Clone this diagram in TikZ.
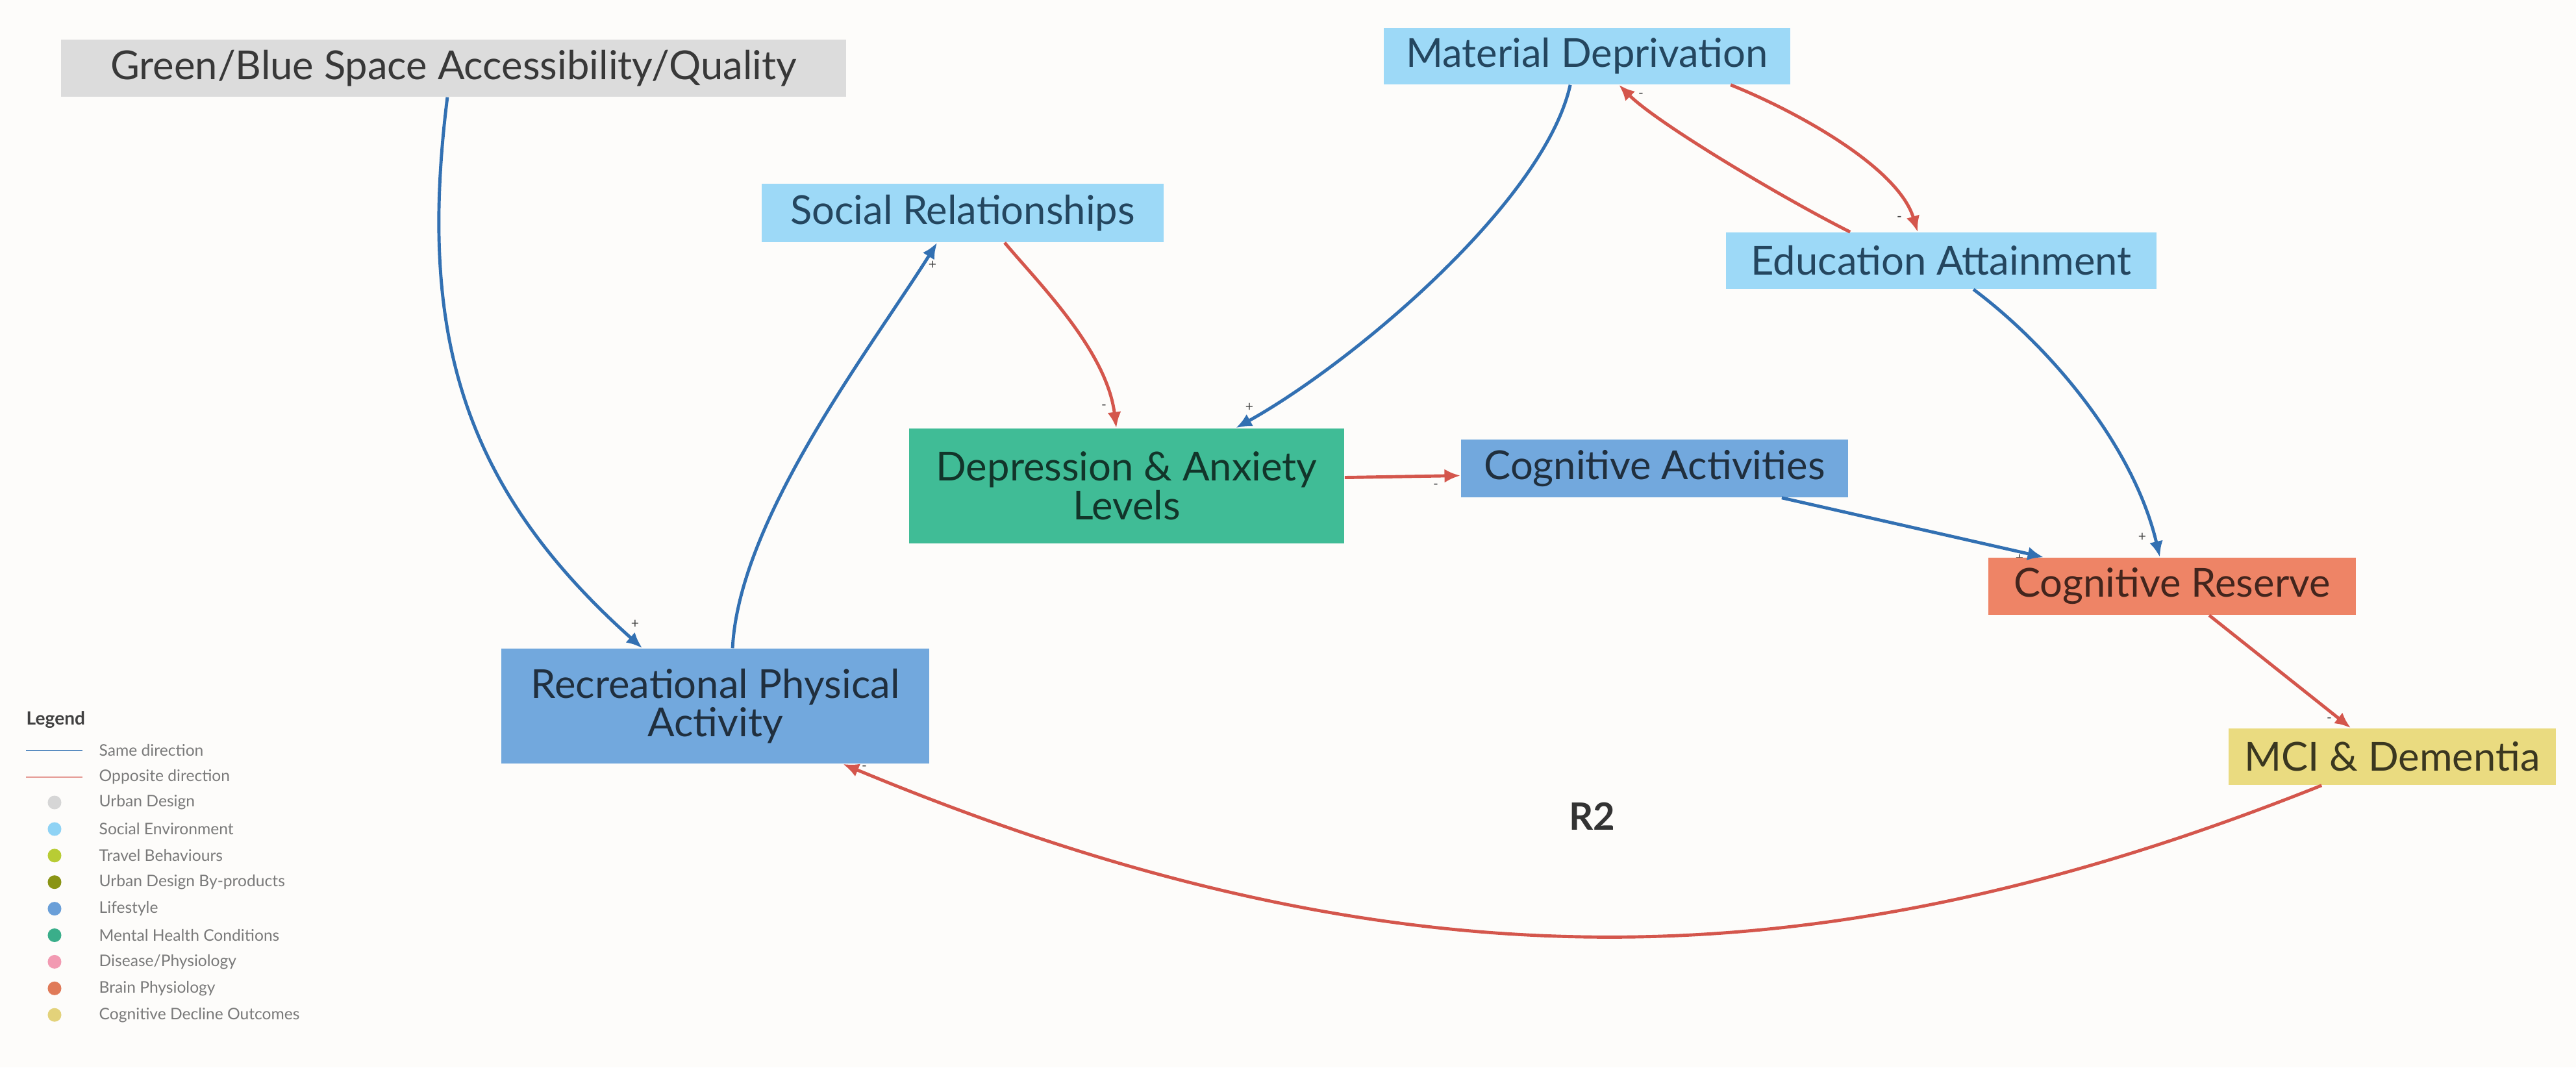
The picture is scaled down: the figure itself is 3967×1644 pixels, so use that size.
\documentclass[tikz,border=0pt]{standalone}
\usepackage{fontspec}
\setmainfont{Lato}
\usepackage{xcolor}
\usetikzlibrary{arrows.meta,calc}

\definecolor{bgcol}{HTML}{FDFCFA}
\definecolor{urban}{HTML}{DCDCDC}
\definecolor{social}{HTML}{9DD9F7}
\definecolor{mental}{HTML}{40BC96}
\definecolor{lifestyle}{HTML}{72A8DD}
\definecolor{brain}{HTML}{EE8466}
\definecolor{decline}{HTML}{EADB80}
\definecolor{sameblue}{HTML}{3270B2}
\definecolor{oppred}{HTML}{D4564C}
\definecolor{signgrey}{HTML}{444444}
\definecolor{legtxt}{HTML}{7A7A7A}
\definecolor{socialtxt}{HTML}{24465F}
% legend dots
\definecolor{legUD}{HTML}{D6D6D6}
\definecolor{legSE}{HTML}{8FD3F5}
\definecolor{legTB}{HTML}{B8CC34}
\definecolor{legBP}{HTML}{8A9414}
\definecolor{legLS}{HTML}{6A9FD8}
\definecolor{legMH}{HTML}{3AAE8A}
\definecolor{legDS}{HTML}{F29AB2}
\definecolor{legBR}{HTML}{E07A58}
\definecolor{legCD}{HTML}{E3D27A}

\tikzset{
  varbox/.style={rectangle, inner sep=0pt, minimum height=0.88cm, align=center,
    font=\fontsize{17.5}{17}\selectfont},
  samedir/.style={draw=sameblue, line width=1.4pt, -{Latex[length=7pt,width=6pt]}},
  oppdir/.style={draw=oppred, line width=1.4pt, -{Latex[length=7pt,width=6pt]}},
  sign/.style={font=\fontsize{6}{7}\selectfont, text=signgrey, inner sep=0pt},
  legtext/.style={font=\fontsize{7}{8}\selectfont, text=legtxt, anchor=west, inner sep=0pt},
}

\begin{document}
\begin{tikzpicture}[x=0.01cm,y=-0.01cm]
\fill[bgcol] (0,0) rectangle (3967,1644);
\useasboundingbox (0,0) rectangle (3967,1644);

% partly hidden sign under the reserve box
\node[sign] at (3110,860) {+};

% variables
\node[varbox, fill=urban, text=black!78, minimum width=12.09cm] (gbs) at (698.5,105) {Green/Blue Space Accessibility/Quality};
\node[varbox, fill=social, text=socialtxt, minimum width=6.19cm, minimum height=0.9cm] (soc) at (1482.5,328) {Social Relationships};
\node[varbox, fill=social, text=socialtxt, minimum width=6.26cm, minimum height=0.87cm] (mat) at (2444,86.5) {Material Deprivation};
\node[varbox, fill=social, text=socialtxt, minimum width=6.63cm, minimum height=0.87cm] (edu) at (2989.5,401.5) {Education Attainment};
\node[varbox, fill=mental, text=black!72!mental, minimum width=6.7cm, minimum height=1.77cm] (dep) at (1735,748.5) {Depression \& Anxiety\\Levels};
\node[varbox, fill=lifestyle, text=black!72!lifestyle, minimum width=5.96cm, minimum height=0.89cm] (cact) at (2548,721.5) {Cognitive Activities};
\node[varbox, fill=brain, text=black!72!brain, minimum width=5.66cm] (cres) at (3345,903) {Cognitive Reserve};
\node[varbox, fill=decline, text=black!75!decline, minimum width=5.04cm, minimum height=0.87cm] (mci) at (3684,1165.5) {MCI \& Dementia};
\node[varbox, fill=lifestyle, text=black!72!lifestyle, minimum width=6.59cm, minimum height=1.77cm] (rpa) at (1101.5,1087.5) {Recreational Physical\\Activity};

\node[font=\fontsize{16.5}{17}\bfseries, text=black!80] (loop) at (2452,1257) {R2};

% links
\draw[samedir] ($(gbs.south west)+(596,0)$) .. controls +(-45,360) and +(-280,-250) .. ($(rpa.north west)+(218,0)$);
\draw[samedir] ($(rpa.north west)+(357,0)$) .. controls +(10,-200) and +(-100,160) .. ($(soc.south west)+(271,0)$);
\draw[oppdir] ($(soc.south west)+(375,0)$) .. controls +(50,60) and +(-15,-120) .. ($(dep.north west)+(320,0)$);
\draw[samedir] ($(mat.south west)+(288,0)$) .. controls +(-40,180) and +(180,-100) .. ($(dep.north west)+(504,0)$);
\draw[oppdir] ($(edu.north west)+(192,0)$) .. controls +(-100,-50) and +(60,60) .. ($(mat.south west)+(363,0)$);
\draw[oppdir] ($(mat.south west)+(535,0)$) .. controls +(100,40) and +(-30,-100) .. ($(edu.north west)+(296,0)$);
\draw[oppdir] ($(dep.east)+(0,-13)$) -- ($(cact.west)+(0,11)$);
\draw[samedir] ($(cact.south east)+(-103,0)$) -- ($(cres.north west)+(86,0)$);
\draw[samedir] ($(edu.south west)+(382,0)$) .. controls +(120,90) and +(-40,-170) .. ($(cres.north west)+(265,0)$);
\draw[oppdir] ($(cres.south west)+(341,0)$) -- ($(mci.north west)+(189,0)$);
\draw[oppdir] ($(mci.south west)+(144,0)$) .. controls +(-776,310) and +(851,354) .. ($(rpa.south west)+(527,0)$);

% polarity signs
\node[sign] at (978,961) {+};
\node[sign] at (1436,408) {+};
\node[sign] at (1700,627) {-};
\node[sign] at (1924,627) {+};
\node[sign] at (2527,147) {-};
\node[sign] at (2925,337) {-};
\node[sign] at (2211,749) {-};
\node[sign] at (3299,827) {+};
\node[sign] at (3587,1109) {-};
\node[sign] at (1331,1183) {-};

% legend
\node[font=\fontsize{8}{9}\bfseries, text=black!75, anchor=west, inner sep=0pt] (leg) at (40,1109) {Legend};
\draw[sameblue!80, line width=0.8pt] (40,1156) -- (127,1156);
\node[legtext] at (152,1156) {Same direction};
\draw[oppred!60, line width=0.8pt] (40,1197) -- (127,1197);
\node[legtext] at (152,1197) {Opposite direction};
\foreach \col/\lab [count=\i] in {legUD/Urban Design, legSE/Social Environment,
  legTB/Travel Behaviours, legBP/Urban Design By-products, legLS/Lifestyle,
  legMH/Mental Health Conditions, legDS/{Disease/Physiology},
  legBR/Brain Physiology, legCD/Cognitive Decline Outcomes} {
  \pgfmathsetmacro{\ly}{1236+(\i-1)*40.9}
  \fill[\col] (84,\ly) circle (0.105cm);
  \node[legtext] at (152,\ly) {\lab};
}
\end{tikzpicture}
\end{document}
